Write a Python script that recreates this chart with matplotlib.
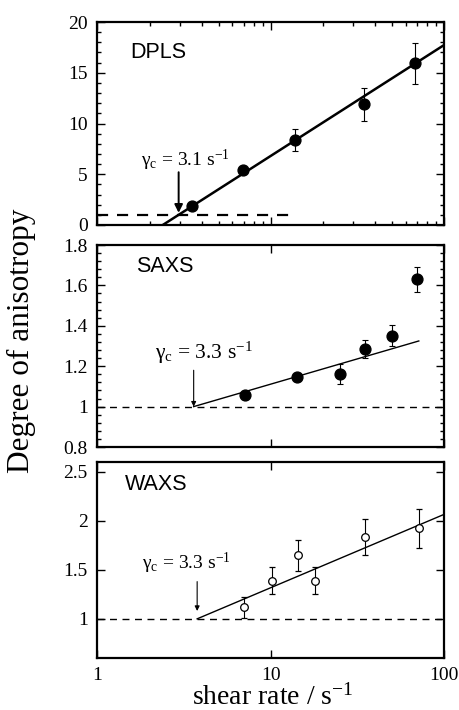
import numpy as np
import matplotlib
matplotlib.use('Agg')
import matplotlib.pyplot as plt
from matplotlib.ticker import MultipleLocator, NullFormatter, LogLocator, NullLocator, FixedLocator

plt.rcParams['font.family'] = ['Liberation Serif', 'DejaVu Serif']
plt.rcParams['mathtext.fontset'] = 'custom'
plt.rcParams['mathtext.rm'] = 'Liberation Serif'
plt.rcParams['mathtext.it'] = 'Liberation Serif:italic'

# DPLS (filled circles)
dpls_x = [3.52, 6.96, 13.8, 34.6, 68.4]
dpls_y = [1.87, 5.42, 8.37, 11.89, 15.93]
dpls_err = [0.3, 0.3, 1.05, 1.6, 2.05]
dpls_fit_x = [2.38, 100]
dpls_fit_y = [0.0, 17.73]
dpls_base_x = [1, 13.6]
dpls_gc = 2.94

# SAXS (filled circles)
saxs_x = [7.07, 14.2, 25.2, 35.0, 49.8, 69.9]
saxs_y = [1.059, 1.146, 1.163, 1.284, 1.352, 1.630]
saxs_err = [0.015, 0.02, 0.05, 0.044, 0.053, 0.062]
saxs_fit_x = [3.59, 71.5]
saxs_fit_y = [1.0, 1.325]
saxs_gc = 3.59

# WAXS (open circles)
waxs_x = [7.0, 10.1, 14.3, 17.9, 35.2, 71.5]
waxs_y = [1.117, 1.389, 1.647, 1.389, 1.838, 1.922]
waxs_err = [0.11, 0.14, 0.155, 0.14, 0.185, 0.2]
waxs_fit_x = [3.76, 100]
waxs_fit_y = [1.0, 2.066]
waxs_gc = 3.76

fig = plt.figure(figsize=(4.59, 7.10), dpi=100)
left, width = 0.2124, 0.755
ax1 = fig.add_axes([left, 0.6831, width, 0.2859])
ax2 = fig.add_axes([left, 0.3704, width, 0.2845])
ax3 = fig.add_axes([left, 0.0732, width, 0.2760])

for ax in (ax1, ax2, ax3):
    ax.set_xscale('log')
    ax.set_xlim(1, 100)
    for s in ax.spines.values():
        s.set_linewidth(1.6)
    ax.tick_params(which='both', direction='in', top=True, right=True,
                   labelsize=14, width=1.0)
    ax.tick_params(which='major', length=6)
    ax.tick_params(which='minor', length=3)
    ax.tick_params(axis='y', pad=7)
    ax.tick_params(axis='x', pad=6.5)
    ax.xaxis.set_major_locator(FixedLocator([1, 10, 100]))

# top panel
ax1.xaxis.set_minor_locator(LogLocator(base=10, subs=np.arange(2, 10)))
ax1.xaxis.set_minor_formatter(NullFormatter())
ax1.set_xticklabels([])
ax1.set_ylim(0, 20)
ax1.yaxis.set_major_locator(MultipleLocator(5))
ax1.yaxis.set_minor_locator(MultipleLocator(1))
ax1.plot(dpls_base_x, [1, 1], 'k--', lw=1.6, dashes=(5, 4))
ax1.plot(dpls_fit_x, dpls_fit_y, 'k-', lw=1.8)
ax1.errorbar(dpls_x, dpls_y, yerr=dpls_err, fmt='o', color='k', ms=7.8,
             elinewidth=0.8, capsize=2.5, capthick=0.8)
ax1.text(0.095, 0.85, 'DPLS', transform=ax1.transAxes, fontsize=15.5,
         family='Liberation Sans', va='center')
ax1.text(0.125, 0.29, 'γ$_\\mathrm{c}$ = 3.1 s$^{-1}$', transform=ax1.transAxes,
         fontsize=14, va='baseline')
ax1.annotate('', xy=(dpls_gc, 1.2), xytext=(dpls_gc, 5.2),
             arrowprops=dict(arrowstyle='-|>', color='k', lw=1.4,
                             mutation_scale=12, shrinkA=0, shrinkB=0))

# middle panel
ax2.xaxis.set_minor_locator(NullLocator())
ax2.set_xticklabels([])
ax2.set_ylim(0.8, 1.8)
ax2.yaxis.set_minor_locator(MultipleLocator(0.04))
ax2.set_yticks([0.8, 1.0, 1.2, 1.4, 1.6, 1.8])
ax2.set_yticklabels(['0.8', '1', '1.2', '1.4', '1.6', '1.8'])
ax2.axhline(1, color='k', ls='--', lw=1.0, dashes=(5, 4))
ax2.plot(saxs_fit_x, saxs_fit_y, 'k-', lw=1.0)
ax2.errorbar(saxs_x, saxs_y, yerr=saxs_err, fmt='o', color='k', ms=7.8,
             elinewidth=0.8, capsize=2.5, capthick=0.8)
ax2.text(0.11, 0.895, 'SAXS', transform=ax2.transAxes, fontsize=15.5,
         family='Liberation Sans', va='center')
ax2.text(0.165, 0.435, 'γ$_\\mathrm{c}$ = 3.3 s$^{-1}$', transform=ax2.transAxes,
         fontsize=15.5, va='baseline')
ax2.annotate('', xy=(saxs_gc, 1.0), xytext=(saxs_gc, 1.18),
             arrowprops=dict(arrowstyle='-|>', color='k', lw=0.8,
                             mutation_scale=7, shrinkA=0, shrinkB=0))

# bottom panel
ax3.xaxis.set_minor_locator(NullLocator())
ax3.set_xticklabels(['1', '10', '100'])
ax3.set_ylim(0.6, 2.6)
ax3.set_yticks([1, 1.5, 2, 2.5])
ax3.set_yticklabels(['1', '1.5', '2', '2.5'])
ax3.yaxis.set_minor_locator(NullLocator())
ax3.axhline(1, color='k', ls='--', lw=1.0, dashes=(5, 4))
ax3.plot(waxs_fit_x, waxs_fit_y, 'k-', lw=1.0)
ax3.errorbar(waxs_x, waxs_y, yerr=waxs_err, fmt='o', color='k', mfc='white',
             ms=5.5, mew=0.9, elinewidth=0.8, capsize=2.5, capthick=0.8)
ax3.text(0.08, 0.885, 'WAXS', transform=ax3.transAxes, fontsize=15.5,
         family='Liberation Sans', va='center')
ax3.text(0.128, 0.455, 'γ$_\\mathrm{c}$ = 3.3 s$^{-1}$', transform=ax3.transAxes,
         fontsize=14, va='baseline')
ax3.annotate('', xy=(waxs_gc, 1.08), xytext=(waxs_gc, 1.38),
             arrowprops=dict(arrowstyle='-|>', color='k', lw=0.8,
                             mutation_scale=7, shrinkA=0, shrinkB=0))

fig.text(0.595, 0.007, 'shear rate / s$^{-1}$', fontsize=20,
         ha='center', va='baseline')
fig.text(0.046, 0.52, 'Degree of anisotropy', rotation=90, fontsize=22.5,
         ha='center', va='center')

fig.savefig('out.png', dpi=100)
